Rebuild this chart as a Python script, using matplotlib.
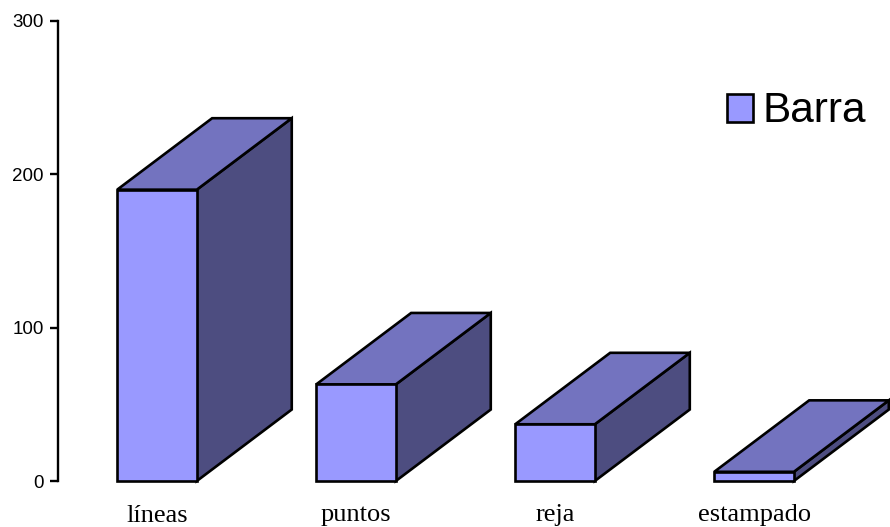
import numpy as np
import matplotlib
matplotlib.use("Agg")
import matplotlib.pyplot as plt
import matplotlib.transforms as mtransforms
from matplotlib.patches import Polygon, Rectangle

# datos del gráfico
categorias = ["líneas", "puntos", "reja", "estampado"]
valores = [190, 63, 37, 6]
serie = "Barra"
yticks = [0, 100, 200, 300]

# colores de las caras 3D
c_frente = "#9999FF"
c_arriba = "#7373BF"
c_lado = "#4D4D80"

W, H = 890, 527
fig = plt.figure(figsize=(W / 100, H / 100), dpi=100)
ax = fig.add_axes([57.5 / W, 46 / H, 1 - 57.5 / W, 460 / H])

ax.set_xlim(-0.5, 3.683)
ax.set_ylim(0, 300)

ancho = 0.40      # ancho de la cara frontal
dx = 0.477        # profundidad en x
dy = 46.6         # profundidad en y
lw = 1.9

for i, v in enumerate(valores):
    x0 = i - ancho / 2
    x1 = i + ancho / 2
    lado = Polygon([(x1, 0), (x1 + dx, dy), (x1 + dx, v + dy), (x1, v)],
                   closed=True, fc=c_lado, ec="black", lw=lw, clip_on=False,
                   joinstyle="miter")
    arriba = Polygon([(x0, v), (x0 + dx, v + dy), (x1 + dx, v + dy), (x1, v)],
                     closed=True, fc=c_arriba, ec="black", lw=lw, clip_on=False,
                     joinstyle="miter")
    frente = Rectangle((x0, 0), ancho, v, fc=c_frente, ec="black", lw=lw,
                       clip_on=False, joinstyle="miter")
    ax.add_patch(lado)
    ax.add_patch(arriba)
    ax.add_patch(frente)

# etiquetas de categoría (x en datos, y en figura)
trans = mtransforms.blended_transform_factory(ax.transData, fig.transFigure)
for i, cat in enumerate(categorias):
    ax.text(i, 5.5 / H, cat, transform=trans, ha="center", va="baseline",
            fontsize=19, family="Liberation Serif", color="black")

# ejes
for s in ["top", "right", "bottom"]:
    ax.spines[s].set_visible(False)
ax.spines["left"].set_linewidth(1.7)
ax.set_xticks([])
ax.set_yticks(yticks)
ax.tick_params(axis="y", length=5.5, width=1.7, pad=4.5, labelsize=13.5)
for lab in ax.get_yticklabels():
    lab.set_family("Liberation Sans")

# leyenda
fig.patches.append(Rectangle((727 / W, 1 - 121.7 / H), 26 / W, 28 / H,
                             transform=fig.transFigure, fc=c_frente,
                             ec="black", lw=lw))
fig.text(762 / W, 1 - 121.7 / H, serie, fontsize=30.5, family="Liberation Sans",
         va="baseline", ha="left")

fig.savefig("out.png", dpi=100)
